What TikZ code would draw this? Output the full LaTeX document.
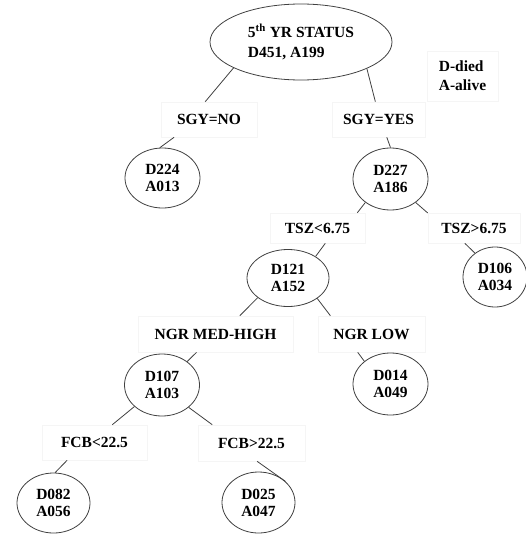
\documentclass[tikz,border=0pt]{standalone}
\usepackage{fontspec}
\setmainfont{Liberation Serif}
\usetikzlibrary{shapes.geometric}

\begin{document}
\begin{tikzpicture}[x=1pt, y=-1pt,
  font=\bfseries\fontsize{15.5}{17}\selectfont,
  count/.style={ellipse, draw=black!75, line width=0.8pt, inner sep=0pt, align=center},
  split/.style={rectangle, draw=black!4, line width=0.6pt, inner sep=0pt, align=center},
  edge/.style={draw=black!75, line width=0.8pt}]
\useasboundingbox (0,0) rectangle (526,535);
% root and legend
\node[count, minimum width=182pt, minimum height=76pt, align=left,
  font=\bfseries\fontsize{15.5}{20}\selectfont] (root) at (301,42)
  {5\textsuperscript{th} YR STATUS\\D451, A199};
\node[split, minimum width=71pt, minimum height=50pt, align=left,
  font=\bfseries\fontsize{15.5}{19}\selectfont] (legend) at (462.5,76) {D-died\\A-alive};
% first split
\node[split, minimum width=96pt, minimum height=35pt] (sgyno) at (209,119.5) {SGY=NO};
\node[split, minimum width=93pt, minimum height=35pt] (sgyyes) at (378.5,119.5) {SGY=YES};
\node[count, minimum width=75pt, minimum height=60pt] (d224) at (162.5,178) {D224\\A013};
\node[count, minimum width=75pt, minimum height=62pt] (d227) at (390.5,179) {D227\\A186};
% second split
\node[split, minimum width=95pt, minimum height=30pt] (tszlt) at (317.5,228) {TSZ<6.75};
\node[split, minimum width=92pt, minimum height=30pt] (tszgt) at (474,228) {TSZ>6.75};
\node[count, minimum width=82pt, minimum height=57pt] (d121) at (288,278) {D121\\A152};
\node[count, minimum width=64pt, minimum height=60pt] (d106) at (495,277) {D106\\A034};
% third split
\node[split, minimum width=155pt, minimum height=36pt] (ngrmh) at (215.5,334) {NGR MED-HIGH};
\node[split, minimum width=107pt, minimum height=36pt] (ngrlow) at (371.5,334) {NGR LOW};
\node[count, minimum width=75pt, minimum height=62pt] (d107) at (162,385) {D107\\A103};
\node[count, minimum width=75pt, minimum height=62pt] (d014) at (390.5,384) {D014\\A049};
% fourth split
\node[split, minimum width=105pt, minimum height=35pt] (fcblt) at (94.5,442.5) {FCB<22.5};
\node[split, minimum width=107pt, minimum height=36pt] (fcbgt) at (251.5,443) {FCB>22.5};
\node[count, minimum width=73pt, minimum height=60pt] (d082) at (53.5,503) {D082\\A056};
\node[count, minimum width=73pt, minimum height=61pt] (d025) at (258.5,502.5) {D025\\A047};
% connectors
\draw[edge] (root.201.5) -- (sgyno.102);
\draw[edge] (root.338) -- (sgyyes.100);
\draw[edge] (sgyno.207) -- (d224.95);
\draw[edge] (sgyyes.295) -- (d227.90);
\draw[edge] (d227.223) -- (tszlt.21);
\draw[edge] (d227.317) -- (tszgt.162);
\draw[edge] (tszlt.297) -- (d121.38);
\draw[edge] (tszgt.239) -- (d106.130);
\draw[edge] (d121.213) -- (ngrmh.37);
\draw[edge] (d121.325) -- (ngrlow.156);
\draw[edge] (ngrmh.224) -- (d107.43);
\draw[edge] (ngrlow.233) -- (d014.139);
\draw[edge] (d107.218) -- (fcblt.45);
\draw[edge] (d107.320) -- (fcbgt.155);
\draw[edge] (fcblt.213) -- (d082.87);
\draw[edge] (fcbgt.287) -- (d025.38);
\end{tikzpicture}
\end{document}
